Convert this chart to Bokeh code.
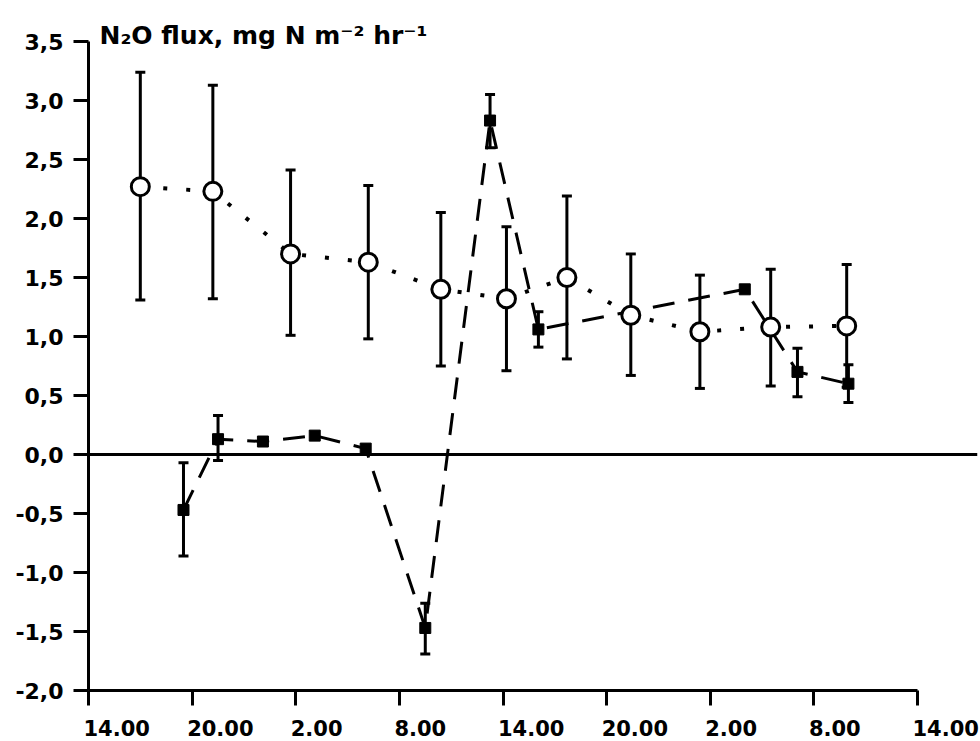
from bokeh.plotting import figure
from bokeh.models import (ColumnDataSource, Whisker, TeeHead, Span, Title,
                          FixedTicker, Range1d, LinearAxis)
from bokeh.embed import file_html
from bokeh.resources import INLINE

# ---------------- data ----------------
X_TICKS = [0, 6, 12, 18, 24, 30, 36, 42, 48]
X_TICK_LABELS = ["14.00", "20.00", "2.00", "8.00", "14.00", "20.00", "2.00", "8.00", "14.00"]
Y_TICKS = [-2.0, -1.5, -1.0, -0.5, 0.0, 0.5, 1.0, 1.5, 2.0, 2.5, 3.0, 3.5]
Y_TICK_LABELS = ["-2,0", "-1,5", "-1,0", "-0,5", "0,0", "0,5", "1,0", "1,5", "2,0", "2,5", "3,0", "3,5"]
TITLE = "N\u2082O flux, mg N m\u207b\u00b2 hr\u207b\u00b9"

# open circles (dotted line)
circle_hours = [3.0, 7.2, 11.7, 16.2, 20.4, 24.2, 27.7, 31.4, 35.4, 39.5, 43.9]
circle_flux = [2.27, 2.23, 1.70, 1.63, 1.40, 1.32, 1.50, 1.18, 1.04, 1.08, 1.09]
circle_upper = [3.24, 3.13, 2.41, 2.28, 2.05, 1.93, 2.19, 1.70, 1.52, 1.57, 1.61]
circle_lower = [1.31, 1.32, 1.01, 0.98, 0.75, 0.71, 0.81, 0.67, 0.56, 0.58, 0.57]

# filled squares (dashed line)
square_hours = [5.5, 7.5, 10.1, 13.1, 16.05, 19.5, 23.25, 26.05, 38.0, 41.05, 44.0]
square_flux = [-0.47, 0.13, 0.11, 0.16, 0.05, -1.47, 2.83, 1.06, 1.40, 0.70, 0.60]
square_upper = [-0.07, 0.33, 0.11, 0.16, 0.05, -1.26, 3.05, 1.21, 1.40, 0.90, 0.76]
square_lower = [-0.86, -0.05, 0.11, 0.16, 0.05, -1.69, 2.60, 0.91, 1.40, 0.49, 0.44]

XMIN, XMAX = 0, 48
YMIN, YMAX = -2.0, 3.5

FONT = "DejaVu Sans"
W, H = 980, 741
BL, BR, BT, BB = 88, 3, 41, 51
AXIS_RIGHT_PX = 917      # pixel where the x axis ends (the zero line runs further)

# the frame runs past the end of the x axis so the zero line and last label fit
frame_w = W - BL - BR
px_per_unit = (AXIS_RIGHT_PX - BL) / (XMAX - XMIN)
XVIEW_MAX = XMIN + frame_w / px_per_unit

# ---------------- figure ----------------
p = figure(width=W, height=H,
           x_range=Range1d(XMIN, XVIEW_MAX), y_range=Range1d(YMIN, YMAX),
           output_backend="svg", toolbar_location=None,
           min_border_left=BL, min_border_right=BR,
           min_border_top=BT, min_border_bottom=BB)
p.grid.visible = False
p.outline_line_color = None
p.background_fill_color = "white"
p.border_fill_color = "white"

# main axes (ticks and lines)
p.xaxis.ticker = FixedTicker(ticks=X_TICKS)
p.xaxis.bounds = (XMIN, XMAX)
p.xaxis.major_label_overrides = {t: "" for t in X_TICKS}
p.xaxis.major_label_text_font_size = "0px"
p.xaxis.major_label_standoff = 0
p.yaxis.ticker = FixedTicker(ticks=Y_TICKS)
p.yaxis.major_label_overrides = {t: l for t, l in zip(Y_TICKS, Y_TICK_LABELS)}

for ax in (p.xaxis, p.yaxis):
    ax.axis_line_width = 3
    ax.axis_line_color = "black"
    ax.major_tick_line_width = 3
    ax.major_tick_line_color = "black"
    ax.major_tick_in = 0
    ax.major_tick_out = 15
    ax.minor_tick_line_color = None

p.yaxis.major_label_text_font = FONT
p.yaxis.major_label_text_font_style = "bold"
p.yaxis.major_label_text_color = "black"
p.yaxis.major_label_text_font_size = "22px"
p.yaxis.major_label_standoff = 10

# x tick labels: in the original they start just left of each tick,
# so a label-only axis places each label's centre to the right of its tick
label_px = 21
def half_width(s):
    widths = {".": 0.38, ",": 0.38}
    return sum(widths.get(c, 0.696) for c in s) * label_px / 2
label_pos = [t + (half_width(l) - 5) / px_per_unit for t, l in zip(X_TICKS, X_TICK_LABELS)]
lab_axis = LinearAxis(ticker=FixedTicker(ticks=label_pos),
                      major_label_overrides={pos: l for pos, l in zip(label_pos, X_TICK_LABELS)},
                      axis_line_color=None, major_tick_line_color=None,
                      minor_tick_line_color=None, major_tick_out=0, major_tick_in=0,
                      major_label_standoff=14,
                      major_label_text_font=FONT, major_label_text_font_style="bold",
                      major_label_text_font_size=f"{label_px}px",
                      major_label_text_color="black")
p.add_layout(lab_axis, "below")

# zero line
p.add_layout(Span(location=0, dimension="width", line_color="black", line_width=3))

# sources
csrc = ColumnDataSource(dict(x=circle_hours, y=circle_flux, up=circle_upper, lo=circle_lower))
ssrc = ColumnDataSource(dict(x=square_hours, y=square_flux))
idx = [i for i in range(len(square_hours)) if square_upper[i] != square_lower[i]]
swsrc = ColumnDataSource(dict(x=[square_hours[i] for i in idx],
                              up=[square_upper[i] for i in idx],
                              lo=[square_lower[i] for i in idx]))

# error bars
for src in (csrc, swsrc):
    w = Whisker(source=src, base="x", upper="up", lower="lo",
                line_color="black", line_width=3,
                upper_head=TeeHead(size=10, line_width=3, line_color="black"),
                lower_head=TeeHead(size=10, line_width=3, line_color="black"),
                level="underlay")
    p.add_layout(w)

# connecting lines
p.line("x", "y", source=ssrc, line_color="black", line_width=3, line_dash="22 14")
p.line("x", "y", source=csrc, line_color="black", line_width=4, line_dash="4 19")

# markers
p.scatter("x", "y", source=ssrc, marker="square", size=11,
          fill_color="black", line_color="black", line_width=1)
p.scatter("x", "y", source=csrc, marker="circle", size=18,
          fill_color="white", line_color="black", line_width=3)

# y-axis title at the top of the axis
p.add_layout(Title(text=TITLE, align="left", offset=11, standoff=-16,
                   text_font=FONT, text_font_style="bold", text_font_size="25px",
                   text_color="black", vertical_align="bottom"), "above")

open("out.html", "w").write(file_html(p, INLINE))
